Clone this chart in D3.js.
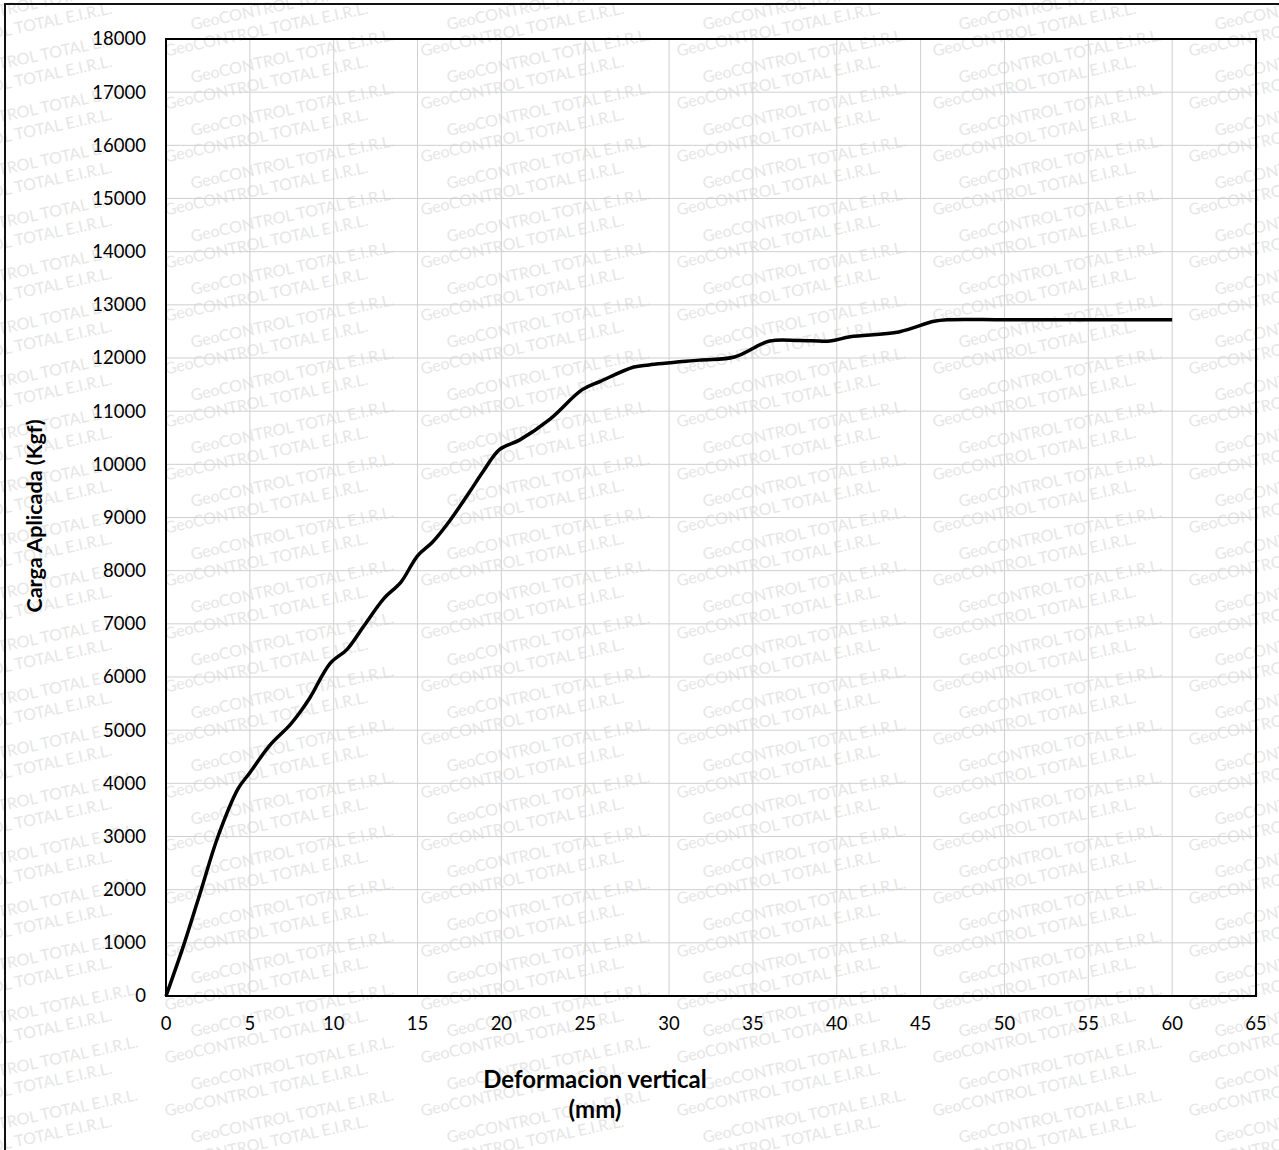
<!DOCTYPE html>
<html>
<head>
<meta charset="utf-8">
<script src="https://cdn.jsdelivr.net/npm/d3@7"></script>
<style>
  body { margin: 0; background: #fff; }
  svg { display: block; }
</style>
</head>
<body>
<svg id="chart" width="1279" height="1150"></svg>
<script>
// deformacion vertical (mm) vs carga aplicada (kgf)
var deformacion = [0, 1.1, 2.1, 3.1, 4.3, 5.0, 6.2, 7.4, 8.0, 8.6, 9.8, 10.8, 11.8, 13.0, 14.0, 15.0, 15.9, 16.9,
  18.1, 18.9, 19.9, 21.1, 22.9, 24.8, 25.9, 27.9, 28.8, 31.8, 33.9, 36.0, 37.8, 39.6, 40.8, 43.7, 45.8, 46.6, 50.0, 55.0, 60.0];
var carga = [0, 1000, 2000, 3000, 3900, 4200, 4720, 5100, 5340, 5620, 6260, 6520, 6960, 7480, 7780, 8280, 8540, 8930,
  9480, 9860, 10280, 10460, 10850, 11400, 11560, 11830, 11870, 11960, 12020, 12320, 12330, 12320, 12400, 12490, 12690, 12720, 12720, 12720, 12720];

var xTicks = [0, 5, 10, 15, 20, 25, 30, 35, 40, 45, 50, 55, 60, 65];
var yTicks = [0, 1000, 2000, 3000, 4000, 5000, 6000, 7000, 8000, 9000, 10000, 11000, 12000, 13000, 14000, 15000, 16000, 17000, 18000];
var watermark = "GeoCONTROL TOTAL E.I.R.L.";

var svg = d3.select("#chart");
var pLeft = 166, pTop = 39, pRight = 1256, pBottom = 996;

var x = d3.scaleLinear().domain([0, 65]).range([pLeft, pRight]);
var y = d3.scaleLinear().domain([0, 18000]).range([pBottom, pTop]);

// faint watermark behind everything
var wm = svg.append("g").attr("fill", "#e6e6e6").style("font-family", "Lato, sans-serif").style("font-size", "16px");
for (var r = 0; r < 44; r++) {
  for (var c = -1; c < 5; c++) {
    var wx = c * 256 + (r % 2 == 0 ? 192 : 166);
    var wy = r * 26.5 + 30;
    wm.append("text").attr("x", wx).attr("y", wy)
      .attr("transform", "rotate(-12," + wx + "," + wy + ")")
      .text(watermark);
  }
}

// outer frame
svg.append("path").attr("d", "M5,1150 L5,4 L1279,4").attr("fill", "none").attr("stroke", "#111").attr("stroke-width", 2);

// grid
svg.append("g").selectAll("line").data(xTicks.slice(1, -1)).join("line")
  .attr("x1", d => x(d)).attr("x2", d => x(d)).attr("y1", pTop).attr("y2", pBottom)
  .attr("stroke", "#cfcfcf").attr("stroke-width", 1);
svg.append("g").selectAll("line").data(yTicks.slice(1, -1)).join("line")
  .attr("y1", d => y(d)).attr("y2", d => y(d)).attr("x1", pLeft).attr("x2", pRight)
  .attr("stroke", "#cfcfcf").attr("stroke-width", 1);

// plot border
svg.append("rect").attr("x", pLeft).attr("y", pTop).attr("width", pRight - pLeft).attr("height", pBottom - pTop)
  .attr("fill", "none").attr("stroke", "#000").attr("stroke-width", 2);

// tick labels
var tickFont = "Lato, 'Open Sans', sans-serif";
svg.append("g").selectAll("text").data(yTicks).join("text")
  .attr("x", 146).attr("y", d => y(d)).attr("dy", "0.35em")
  .attr("text-anchor", "end").style("font-family", tickFont).style("font-size", "18.5px").attr("fill", "#000")
  .text(d => d);
svg.append("g").selectAll("text").data(xTicks).join("text")
  .attr("x", d => x(d)).attr("y", 1030)
  .attr("text-anchor", "middle").style("font-family", tickFont).style("font-size", "18.5px").attr("fill", "#000")
  .text(d => d);

// axis titles
svg.append("text").attr("transform", "translate(42,516) rotate(-90)")
  .attr("text-anchor", "middle").style("font-family", tickFont).style("font-size", "21.5px").style("font-weight", "bold")
  .text("Carga Aplicada (Kgf)");
svg.append("text").attr("x", 595).attr("y", 1088)
  .attr("text-anchor", "middle").style("font-family", tickFont).style("font-size", "24px").style("font-weight", "bold")
  .text("Deformacion vertical");
svg.append("text").attr("x", 595).attr("y", 1118)
  .attr("text-anchor", "middle").style("font-family", tickFont).style("font-size", "24px").style("font-weight", "bold")
  .text("(mm)");

// curve
var pts = deformacion.map((d, i) => [d, carga[i]]);
svg.append("path").datum(pts)
  .attr("d", d3.line().x(d => x(d[0])).y(d => y(d[1])).curve(d3.curveCatmullRom.alpha(0.5)))
  .attr("fill", "none").attr("stroke", "#000").attr("stroke-width", 3.5).attr("stroke-linejoin", "round");
</script>
</body>
</html>
